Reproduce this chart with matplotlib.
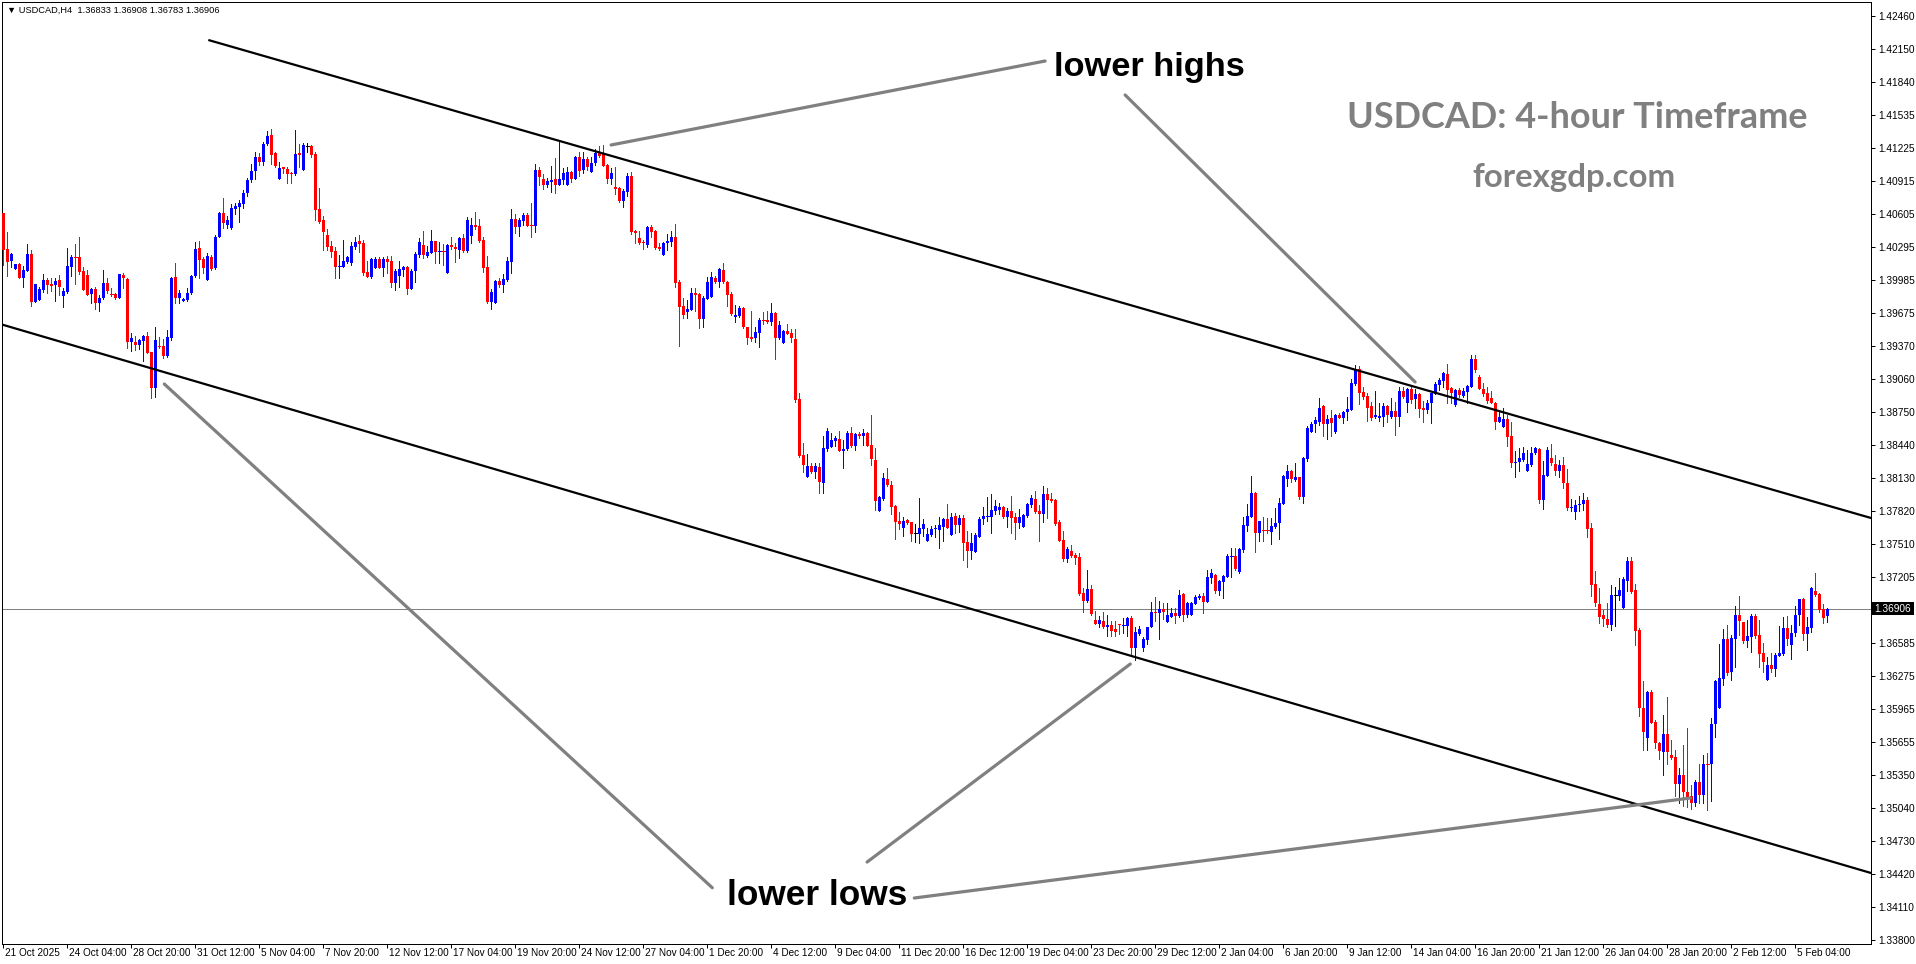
import matplotlib
matplotlib.use("Agg")
import matplotlib.pyplot as plt
from matplotlib.patches import Rectangle
from matplotlib.collections import PatchCollection, LineCollection
from matplotlib.transforms import blended_transform_factory

# ---------------- data (USDCAD H4, one value per bar) ----------------
opens = [
1.40611,1.40273,1.40167,1.40086,1.40136,1.40008,1.40073,1.40226,1.39783,1.39798,
1.39892,1.39986,1.39951,1.39942,1.39986,1.39839,1.39873,1.40111,1.40204,1.40204,
1.40070,1.40033,1.39851,1.39901,1.39767,1.39814,1.39955,1.39861,1.39855,1.39814,
1.40033,1.39995,1.39408,1.39402,1.39377,1.39417,1.39461,1.39311,1.38970,1.39367,
1.39367,1.39274,1.39439,1.40017,1.39814,1.39792,1.39798,1.39861,1.40026,1.40289,
1.40183,1.39986,1.40204,1.40101,1.40392,1.40611,1.40501,1.40470,1.40651,1.40667,
1.40698,1.40798,1.40923,1.41010,1.41135,1.41095,1.41257,1.41345,1.41173,1.40932,
1.41042,1.41023,1.40992,1.40976,1.41179,1.41017,1.41242,1.41242,1.41166,1.40648,
1.40548,1.40407,1.40304,1.40257,1.40110,1.40110,1.40157,1.40148,1.40298,1.40351,
1.40332,1.40060,1.40017,1.40098,1.40179,1.40098,1.40179,1.40160,1.39961,1.40023,
1.40079,1.40107,1.39901,1.40070,1.40220,1.40313,1.40210,1.40242,1.40351,1.40251,
1.40257,1.40054,1.40313,1.40298,1.40267,1.40379,1.40260,1.40401,1.40501,1.40492,
1.40360,1.40107,1.39779,1.39773,1.39976,1.39939,1.39985,1.40157,1.40557,1.40479,
1.40542,1.40595,1.40501,1.40495,1.41016,1.40929,1.40879,1.40907,1.40929,1.40879,
1.40923,1.40879,1.40998,1.40932,1.41141,1.41016,1.41119,1.41001,1.41079,1.41179,
1.41163,1.41063,1.40932,1.40857,1.40848,1.40726,1.40813,1.40961,1.40448,1.40377,
1.40345,1.40314,1.40483,1.40445,1.40295,1.40224,1.40336,1.40345,1.40389,1.39967,
1.39742,1.39689,1.39708,1.39861,1.39855,1.39624,1.39811,1.39830,1.40005,1.39970,
1.40080,1.39967,1.39855,1.39642,1.39649,1.39727,1.39549,1.39455,1.39439,1.39486,
1.39611,1.39611,1.39596,1.39680,1.39439,1.39399,1.39508,1.39492,1.39433,1.38871,
1.38346,1.38143,1.38243,1.38190,1.38237,1.38087,1.38405,1.38424,1.38480,1.38496,
1.38387,1.38399,1.38555,1.38430,1.38543,1.38527,1.38555,1.38440,1.38299,1.37824,
1.37930,1.38118,1.38065,1.37868,1.37727,1.37665,1.37737,1.37715,1.37613,1.37602,
1.37652,1.37540,1.37596,1.37649,1.37643,1.37668,1.37749,1.37596,1.37774,1.37690,
1.37752,1.37531,1.37446,1.37440,1.37581,1.37743,1.37768,1.37765,1.37824,1.37831,
1.37856,1.37762,1.37824,1.37765,1.37712,1.37674,1.37774,1.37877,1.37934,1.37824,
1.37790,1.37980,1.37930,1.37924,1.37718,1.37549,1.37371,1.37446,1.37409,1.37393,
1.37056,1.36981,1.37090,1.36800,1.36765,1.36790,1.36737,1.36750,1.36715,1.36759,
1.36746,1.36746,1.36815,1.36534,1.36668,1.36534,1.36612,1.36731,1.36875,1.36862,
1.36900,1.36784,1.36831,1.36868,1.36837,1.37040,1.36846,1.36846,1.36950,1.37003,
1.37025,1.36971,1.37196,1.37221,1.37071,1.37159,1.37206,1.37393,1.37399,1.37253,
1.37456,1.37684,1.37768,1.37993,1.37612,1.37643,1.37643,1.37628,1.37675,1.37706,
1.37887,1.38118,1.38196,1.38112,1.38143,1.37956,1.38306,1.38565,1.38634,1.38659,
1.38809,1.38634,1.38690,1.38565,1.38721,1.38690,1.38746,1.38768,1.39009,1.39149,
1.38940,1.38899,1.38805,1.38699,1.38696,1.38699,1.38805,1.38705,1.38759,1.38705,
1.38949,1.38837,1.38962,1.38868,1.38915,1.38787,1.38768,1.38830,1.38918,1.39002,
1.39043,1.39105,1.38977,1.38815,1.38955,1.38899,1.38940,1.38987,1.39246,1.39080,
1.38965,1.38930,1.38877,1.38837,1.38659,1.38612,1.38680,1.38524,1.38268,1.38277,
1.38299,1.38199,1.38252,1.38362,1.38399,1.37924,1.38149,1.38321,1.38262,1.38196,
1.38252,1.38081,1.37853,1.37815,1.37874,1.37884,1.37924,1.37659,1.37137,1.36950,
1.36847,1.36806,1.36753,1.37034,1.37025,1.36915,1.37168,1.37353,1.37081,1.36706,
1.35978,1.35691,1.36128,1.35847,1.35644,1.35566,1.35731,1.35535,1.35519,1.35260,
1.35347,1.35191,1.35150,1.35080,1.35285,1.35160,1.35457,1.35450,1.35825,1.35972,
1.36247,1.36622,1.36316,1.36622,1.36847,1.36784,1.36603,1.36644,1.36837,1.36659,
1.36487,1.36238,1.36378,1.36341,1.36462,1.36478,1.36728,1.36566,1.36675,1.36847,
1.36997,1.36669,1.36728,1.37072,1.37044,1.36900,1.36833]

highs = [
1.40611,1.40439,1.40242,1.40136,1.40142,1.40117,1.40320,1.40267,1.39948,1.39923,
1.40042,1.40001,1.40001,1.40001,1.40033,1.39908,1.40289,1.40220,1.40323,1.40392,
1.40111,1.40079,1.39908,1.39923,1.39845,1.40079,1.40001,1.39908,1.39861,1.40042,
1.40048,1.40001,1.39486,1.39461,1.39433,1.39470,1.39502,1.39311,1.39548,1.39455,
1.39430,1.39517,1.40017,1.40142,1.39892,1.39814,1.39908,1.40033,1.40345,1.40351,
1.40204,1.40236,1.40220,1.40407,1.40626,1.40751,1.40586,1.40695,1.40704,1.40736,
1.40829,1.40939,1.41070,1.41189,1.41173,1.41282,1.41385,1.41401,1.41189,1.41095,
1.41048,1.41048,1.41001,1.41392,1.41260,1.41267,1.41267,1.41251,1.41188,1.40845,
1.40585,1.40460,1.40351,1.40298,1.40220,1.40360,1.40210,1.40345,1.40385,1.40407,
1.40360,1.40164,1.40195,1.40204,1.40198,1.40198,1.40210,1.40210,1.40089,1.40164,
1.40120,1.40117,1.40085,1.40251,1.40382,1.40445,1.40304,1.40454,1.40351,1.40345,
1.40320,1.40323,1.40385,1.40329,1.40392,1.40417,1.40573,1.40563,1.40626,1.40554,
1.40385,1.40210,1.39901,1.39985,1.40001,1.40042,1.40204,1.40651,1.40604,1.40563,
1.40610,1.40617,1.40704,1.41073,1.41048,1.40979,1.40938,1.41054,1.41132,1.41298,
1.41038,1.41048,1.41007,1.41148,1.41188,1.41188,1.41135,1.41141,1.41210,1.41241,
1.41251,1.41070,1.41038,1.41048,1.40860,1.40838,1.40991,1.41001,1.40455,1.40445,
1.40361,1.40492,1.40502,1.40455,1.40330,1.40342,1.40417,1.40445,1.40511,1.39986,
1.39814,1.39799,1.39908,1.39908,1.39867,1.39836,1.40017,1.40064,1.40024,1.40102,
1.40142,1.39974,1.39877,1.39752,1.39742,1.39736,1.39549,1.39696,1.39542,1.39627,
1.39689,1.39696,1.39774,1.39689,1.39605,1.39517,1.39574,1.39524,1.39527,1.38924,
1.38462,1.38355,1.38268,1.38268,1.38268,1.38524,1.38602,1.38549,1.38527,1.38571,
1.38487,1.38571,1.38605,1.38550,1.38565,1.38590,1.38565,1.38721,1.38415,1.37962,
1.38180,1.38221,1.38102,1.37877,1.37815,1.37768,1.37743,1.37721,1.37699,1.37940,
1.37743,1.37659,1.37681,1.37690,1.37762,1.37759,1.37887,1.37806,1.37806,1.37784,
1.37784,1.37634,1.37618,1.37618,1.37768,1.37856,1.37949,1.37980,1.37924,1.37893,
1.37868,1.37852,1.37962,1.37806,1.37837,1.37790,1.37893,1.37971,1.38009,1.37877,
1.38055,1.38034,1.37993,1.37930,1.37737,1.37634,1.37487,1.37502,1.37431,1.37431,
1.37096,1.37268,1.37128,1.36887,1.36837,1.36871,1.36846,1.36793,1.36787,1.36762,
1.36821,1.36831,1.36837,1.36737,1.36743,1.36643,1.36737,1.36971,1.37018,1.36978,
1.36962,1.36956,1.36909,1.36909,1.37081,1.37050,1.36971,1.36971,1.37034,1.37043,
1.37050,1.37268,1.37274,1.37231,1.37174,1.37221,1.37415,1.37471,1.37478,1.37478,
1.37768,1.37884,1.38149,1.38003,1.37728,1.37762,1.37753,1.37753,1.37846,1.37940,
1.38159,1.38252,1.38206,1.38268,1.38143,1.38331,1.38618,1.38659,1.38699,1.38884,
1.38815,1.38721,1.38768,1.38730,1.38737,1.38759,1.38893,1.39058,1.39190,1.39183,
1.38987,1.38924,1.38843,1.38946,1.38830,1.38837,1.38815,1.38877,1.38840,1.38987,
1.38987,1.38977,1.38987,1.38962,1.38930,1.38852,1.38862,1.38930,1.39027,1.39065,
1.39127,1.39199,1.38987,1.38962,1.38971,1.38971,1.39002,1.39283,1.39283,1.39096,
1.39024,1.38980,1.38949,1.38846,1.38752,1.38784,1.38721,1.38659,1.38384,1.38409,
1.38418,1.38393,1.38418,1.38424,1.38415,1.38290,1.38418,1.38449,1.38346,1.38299,
1.38331,1.38212,1.37931,1.37924,1.37962,1.37993,1.37956,1.37706,1.37262,1.37097,
1.36894,1.36956,1.37128,1.37112,1.37190,1.37206,1.37393,1.37393,1.37137,1.36722,
1.36228,1.36138,1.36144,1.35863,1.35660,1.35910,1.36075,1.35675,1.35581,1.35410,
1.35628,1.35785,1.35250,1.35300,1.35450,1.35535,1.35557,1.35878,1.36238,1.36575,
1.36715,1.36753,1.36659,1.36931,1.37025,1.36784,1.36800,1.36856,1.36856,1.36800,
1.36581,1.36456,1.36494,1.36494,1.36744,1.36831,1.36837,1.36753,1.36931,1.36997,
1.37003,1.36831,1.37106,1.37243,1.37050,1.36947,1.36908]

lows = [
1.40126,1.40026,1.40111,1.40086,1.40001,1.39923,1.40067,1.39742,1.39783,1.39798,
1.39876,1.39861,1.39886,1.39792,1.39845,1.39730,1.39867,1.40026,1.39945,1.40042,
1.39892,1.39845,1.39773,1.39717,1.39698,1.39805,1.39861,1.39836,1.39810,1.39814,
1.39914,1.39345,1.39323,1.39330,1.39336,1.39230,1.39298,1.38877,1.38892,1.39345,
1.39252,1.39267,1.39423,1.39767,1.39773,1.39792,1.39792,1.39855,1.40017,1.40001,
1.40048,1.39986,1.40079,1.40086,1.40386,1.40470,1.40470,1.40461,1.40604,1.40532,
1.40664,1.40773,1.40907,1.40929,1.41064,1.41064,1.41251,1.41073,1.41048,1.40932,
1.40992,1.40898,1.40898,1.40970,1.41042,1.41017,1.41189,1.41135,1.40548,1.40517,
1.40267,1.40267,1.40198,1.40007,1.40007,1.40110,1.40148,1.40126,1.40276,1.40251,
1.40032,1.40017,1.40007,1.40095,1.40095,1.40026,1.40054,1.39923,1.39895,1.39923,
1.40023,1.39851,1.39898,1.39970,1.40198,1.40189,1.40204,1.40235,1.40142,1.40142,
1.40126,1.40054,1.40273,1.40157,1.40189,1.40251,1.40251,1.40329,1.40463,1.40345,
1.40064,1.39773,1.39711,1.39773,1.39923,1.39876,1.39976,1.40054,1.40429,1.40401,
1.40501,1.40492,1.40392,1.40432,1.40876,1.40835,1.40860,1.40813,1.40804,1.40873,
1.40885,1.40879,1.40907,1.40932,1.40960,1.40985,1.41016,1.41001,1.41063,1.41141,
1.41054,1.40898,1.40885,1.40791,1.40720,1.40673,1.40773,1.40417,1.40336,1.40323,
1.40277,1.40292,1.40392,1.40277,1.40267,1.40220,1.40267,1.40305,1.39917,1.39371,
1.39627,1.39633,1.39705,1.39699,1.39539,1.39549,1.39805,1.39830,1.39955,1.39917,
1.39961,1.39742,1.39658,1.39596,1.39639,1.39539,1.39383,1.39414,1.39405,1.39361,
1.39574,1.39580,1.39564,1.39249,1.39430,1.39399,1.39480,1.39402,1.38846,1.38330,
1.38190,1.38143,1.38174,1.38127,1.37993,1.37993,1.38387,1.38418,1.38430,1.38384,
1.38227,1.38393,1.38424,1.38393,1.38502,1.38440,1.38430,1.38252,1.37831,1.37824,
1.37924,1.38055,1.37793,1.37559,1.37652,1.37590,1.37699,1.37540,1.37534,1.37524,
1.37590,1.37540,1.37587,1.37574,1.37471,1.37543,1.37659,1.37596,1.37612,1.37627,
1.37362,1.37299,1.37368,1.37440,1.37581,1.37699,1.37731,1.37618,1.37790,1.37790,
1.37756,1.37674,1.37618,1.37556,1.37659,1.37674,1.37762,1.37856,1.37806,1.37543,
1.37721,1.37759,1.37909,1.37690,1.37540,1.37356,1.37346,1.37393,1.37324,1.37034,
1.36878,1.36971,1.36846,1.36762,1.36737,1.36722,1.36650,1.36650,1.36650,1.36665,
1.36681,1.36650,1.36478,1.36425,1.36659,1.36512,1.36575,1.36731,1.36793,1.36622,
1.36806,1.36778,1.36825,1.36775,1.36825,1.36793,1.36831,1.36846,1.36946,1.36996,
1.36868,1.36971,1.37143,1.37056,1.37034,1.37003,1.37199,1.37199,1.37268,1.37243,
1.37440,1.37637,1.37762,1.37440,1.37540,1.37540,1.37612,1.37509,1.37659,1.37559,
1.37887,1.38059,1.38096,1.38103,1.37931,1.37893,1.38293,1.38559,1.38565,1.38627,
1.38527,1.38496,1.38527,1.38556,1.38696,1.38643,1.38674,1.38768,1.39002,1.38824,
1.38868,1.38668,1.38674,1.38690,1.38668,1.38618,1.38659,1.38690,1.38534,1.38618,
1.38877,1.38752,1.38837,1.38784,1.38699,1.38659,1.38737,1.38649,1.38915,1.38955,
1.38987,1.38830,1.38830,1.38805,1.38893,1.38893,1.38837,1.38987,1.39127,1.38965,
1.38902,1.38837,1.38830,1.38587,1.38652,1.38606,1.38434,1.38237,1.38137,1.38199,
1.38293,1.38199,1.38246,1.38352,1.37899,1.37840,1.38149,1.38252,1.38159,1.38143,
1.38034,1.37831,1.37825,1.37746,1.37825,1.37831,1.37581,1.37025,1.36931,1.36775,
1.36744,1.36737,1.36706,1.36744,1.36987,1.36915,1.37075,1.37050,1.36566,1.35900,
1.35581,1.35581,1.35831,1.35597,1.35494,1.35347,1.35450,1.35494,1.35150,1.35082,
1.35057,1.35050,1.35030,1.35060,1.35082,1.35082,1.35019,1.35104,1.35706,1.35972,
1.36191,1.36284,1.36238,1.36362,1.36659,1.36587,1.36544,1.36503,1.36628,1.36362,
1.36316,1.36238,1.36309,1.36275,1.36462,1.36472,1.36566,1.36434,1.36650,1.36753,
1.36612,1.36519,1.36684,1.37025,1.36878,1.36775,1.36783]

closes = [
1.40267,1.40158,1.40229,1.40136,1.40008,1.40079,1.40229,1.39783,1.39948,1.39901,
1.39986,1.39939,1.39933,1.39973,1.39917,1.39883,1.40117,1.40204,1.40198,1.40058,
1.39892,1.39845,1.39901,1.39773,1.39820,1.39955,1.39886,1.39855,1.39814,1.40042,
1.40001,1.39408,1.39442,1.39377,1.39423,1.39461,1.39305,1.38970,1.39423,1.39355,
1.39274,1.39455,1.40005,1.39814,1.39861,1.39808,1.39867,1.40026,1.40276,1.40173,
1.40101,1.40211,1.40086,1.40392,1.40617,1.40517,1.40548,1.40657,1.40682,1.40704,
1.40798,1.40923,1.41010,1.41142,1.41095,1.41260,1.41338,1.41157,1.41054,1.41039,
1.41023,1.40979,1.40976,1.41167,1.41157,1.41254,1.41242,1.41157,1.40642,1.40532,
1.40438,1.40298,1.40251,1.40110,1.40117,1.40164,1.40201,1.40304,1.40342,1.40323,
1.40054,1.40017,1.40179,1.40179,1.40098,1.40179,1.40157,1.39961,1.40070,1.40089,
1.40107,1.39901,1.40070,1.40229,1.40342,1.40220,1.40248,1.40351,1.40251,1.40257,
1.40251,1.40313,1.40292,1.40279,1.40379,1.40260,1.40548,1.40501,1.40485,1.40354,
1.40101,1.39779,1.39873,1.39976,1.39939,1.39992,1.40160,1.40557,1.40479,1.40548,
1.40595,1.40495,1.40495,1.41016,1.40954,1.40879,1.40916,1.40923,1.40879,1.40932,
1.40991,1.40998,1.40932,1.41141,1.41010,1.41119,1.41048,1.41079,1.41179,1.41148,
1.41057,1.40932,1.40991,1.40841,1.40726,1.40820,1.40960,1.40433,1.40423,1.40336,
1.40330,1.40483,1.40436,1.40289,1.40277,1.40336,1.40352,1.40389,1.39961,1.39736,
1.39661,1.39714,1.39861,1.39842,1.39624,1.39817,1.39967,1.40011,1.39970,1.40086,
1.39967,1.39845,1.39667,1.39658,1.39727,1.39549,1.39446,1.39436,1.39496,1.39611,
1.39605,1.39596,1.39674,1.39446,1.39564,1.39508,1.39483,1.39439,1.38861,1.38337,
1.38252,1.38243,1.38190,1.38243,1.38096,1.38415,1.38571,1.38487,1.38502,1.38387,
1.38402,1.38555,1.38430,1.38540,1.38524,1.38555,1.38433,1.38305,1.37915,1.37955,
1.38134,1.38065,1.37862,1.37721,1.37696,1.37727,1.37712,1.37602,1.37613,1.37659,
1.37699,1.37606,1.37652,1.37659,1.37690,1.37749,1.37665,1.37768,1.37690,1.37759,
1.37524,1.37446,1.37518,1.37596,1.37743,1.37774,1.37774,1.37831,1.37868,1.37856,
1.37762,1.37824,1.37759,1.37712,1.37768,1.37784,1.37884,1.37940,1.37815,1.37790,
1.37980,1.37924,1.37918,1.37699,1.37543,1.37371,1.37465,1.37399,1.37384,1.37040,
1.36981,1.37090,1.36856,1.36765,1.36800,1.36737,1.36753,1.36700,1.36687,1.36750,
1.36753,1.36815,1.36534,1.36684,1.36715,1.36622,1.36737,1.36875,1.36862,1.36900,
1.36875,1.36846,1.36868,1.36837,1.37034,1.36846,1.36962,1.36962,1.37012,1.37025,
1.36971,1.37206,1.37237,1.37071,1.37165,1.37215,1.37399,1.37399,1.37278,1.37465,
1.37690,1.37775,1.37993,1.37612,1.37728,1.37637,1.37637,1.37681,1.37712,1.37893,
1.38149,1.38196,1.38118,1.38143,1.37956,1.38315,1.38602,1.38634,1.38674,1.38784,
1.38634,1.38684,1.38649,1.38721,1.38696,1.38746,1.38777,1.39018,1.39152,1.38930,
1.38887,1.38790,1.38696,1.38721,1.38712,1.38805,1.38721,1.38759,1.38705,1.38949,
1.38887,1.38962,1.38862,1.38915,1.38780,1.38768,1.38837,1.38924,1.39009,1.39049,
1.39118,1.38955,1.38930,1.38955,1.38909,1.38949,1.38993,1.39246,1.39143,1.38965,
1.38918,1.38852,1.38837,1.38659,1.38699,1.38684,1.38518,1.38274,1.38284,1.38315,
1.38368,1.38259,1.38368,1.38409,1.37924,1.38159,1.38393,1.38268,1.38196,1.38252,
1.38081,1.37853,1.37862,1.37878,1.37887,1.37924,1.37650,1.37128,1.36956,1.36831,
1.36806,1.36753,1.37034,1.37034,1.37081,1.37184,1.37353,1.37065,1.36700,1.35972,
1.35753,1.36128,1.35838,1.35644,1.35575,1.35731,1.35563,1.35510,1.35260,1.35347,
1.35191,1.35144,1.35080,1.35285,1.35160,1.35450,1.35450,1.35825,1.36228,1.36253,
1.36622,1.36306,1.36628,1.36847,1.36794,1.36603,1.36650,1.36837,1.36650,1.36481,
1.36409,1.36378,1.36341,1.36472,1.36487,1.36728,1.36622,1.36681,1.36847,1.36997,
1.36669,1.36737,1.37097,1.37034,1.36894,1.36822,1.36906]

x_labels = ["21 Oct 2025", "24 Oct 04:00", "28 Oct 20:00", "31 Oct 12:00", "5 Nov 04:00",
            "7 Nov 20:00", "12 Nov 12:00", "17 Nov 04:00", "19 Nov 20:00", "24 Nov 12:00",
            "27 Nov 04:00", "1 Dec 20:00", "4 Dec 12:00", "9 Dec 04:00", "11 Dec 20:00",
            "16 Dec 12:00", "19 Dec 04:00", "23 Dec 20:00", "29 Dec 12:00", "2 Jan 04:00",
            "6 Jan 20:00", "9 Jan 12:00", "14 Jan 04:00", "16 Jan 20:00", "21 Jan 12:00",
            "26 Jan 04:00", "28 Jan 20:00", "2 Feb 12:00", "5 Feb 04:00"]
bars_per_label = 16

y_ticks = [1.42460, 1.42150, 1.41840, 1.41535, 1.41225, 1.40915, 1.40605, 1.40295,
           1.39985, 1.39675, 1.39370, 1.39060, 1.38750, 1.38440, 1.38130, 1.37820,
           1.37510, 1.37205, 1.36585, 1.36275, 1.35965, 1.35655, 1.35350, 1.35040,
           1.34730, 1.34420, 1.34110, 1.33800]

current_price = 1.36906
header = "\u25bc USDCAD,H4  1.36833 1.36908 1.36783 1.36906"

# trend channel (bar index, price)
upper_channel = [(51.2, 1.42235), (466.9, 1.37755)]
lower_channel = [(-0.8, 1.39573), (466.9, 1.34428)]

# annotation pointer lines (bar index, price)
highs_pointers = [[(260.4, 1.42038), (151.9, 1.41251)],
                  [(280.4, 1.41720), (352.9, 1.39030)]]
lows_pointers = [[(40.2, 1.39011), (177.2, 1.34290)],
                 [(215.9, 1.34531), (281.7, 1.36387)],
                 [(227.7, 1.34194), (421.7, 1.35131)]]

# ---------------- figure geometry ----------------
W, H, DPI = 1916, 964, 100
X0, X1, Y0, Y1 = 2, 1871, 2, 944          # plot frame in pixels (top-left origin)
Y_TOP, Y_BOT = 1.42591, 1.33763            # price range of the frame
PX_PER_BAR = 4

fig = plt.figure(figsize=(W / DPI, H / DPI), dpi=DPI)
fig.patch.set_facecolor("white")
ax = fig.add_axes([X0 / W, 1 - Y1 / H, (X1 - X0) / W, (Y1 - Y0) / H])
xmin = -0.375
ax.set_xlim(xmin, xmin + (X1 - X0) / PX_PER_BAR)
ax.set_ylim(Y_BOT, Y_TOP)
ax.set_facecolor("white")
ppx = (Y_TOP - Y_BOT) / (Y1 - Y0)

BULL, BEAR, DOJI = "#0000FF", "#FF0000", "#000000"
wseg, wcol, rects, rcol, dseg, dcol = [], [], [], [], [], []
for i, (o, h, l, c) in enumerate(zip(opens, highs, lows, closes)):
    col = BULL if c > o else (BEAR if c < o else DOJI)
    hi, lo = max(h, o, c), min(l, o, c)
    wseg.append([(i, lo), (i, hi)])
    wcol.append(col)
    b, t = min(o, c), max(o, c)
    if t - b < ppx * 0.9:
        dseg.append([(i - 0.375, (o + c) / 2), (i + 0.375, (o + c) / 2)])
        dcol.append(col)
    else:
        rects.append(Rectangle((i - 0.375, b), 0.75, t - b))
        rcol.append(col)

ax.add_collection(LineCollection(wseg, colors=wcol, linewidths=72 / DPI,
                                 antialiaseds=False, zorder=3))
ax.add_collection(PatchCollection(rects, facecolors=rcol, edgecolors="none",
                                  antialiaseds=False, zorder=4))
ax.add_collection(LineCollection(dseg, colors=dcol, linewidths=72 / DPI,
                                 antialiaseds=False, zorder=4))

# current price line
ax.axhline(current_price, color="#808080", lw=72 / DPI, zorder=2)

# channel lines
for ln in (upper_channel, lower_channel):
    ax.plot([p[0] for p in ln], [p[1] for p in ln], color="black", lw=1.6,
            solid_capstyle="butt", zorder=5)

# pointer lines
for ln in highs_pointers + lows_pointers:
    ax.plot([p[0] for p in ln], [p[1] for p in ln], color="#808080", lw=2.3,
            solid_capstyle="round", zorder=6)

# ---------------- axes styling ----------------
for s in ax.spines.values():
    s.set_color("black")
    s.set_linewidth(72 / DPI)

ax.yaxis.tick_right()
ax.set_yticks(y_ticks)
ax.set_yticklabels([f"{v:.5f}" for v in y_ticks])
ax.tick_params(axis="y", direction="out", length=3, width=72 / DPI, pad=2,
               labelsize=7.3, colors="black")
for t in ax.get_yticklabels():
    t.set_family("Liberation Sans")

xt = [k * bars_per_label for k in range(len(x_labels))]
ax.set_xticks(xt)
ax.set_xticklabels([])
ax.tick_params(axis="x", direction="out", length=3, width=72 / DPI)
trans = blended_transform_factory(ax.transData, fig.transFigure)
for k, lab in enumerate(x_labels):
    ax.text(xt[k] + 0.4, 1 - 948 / H, lab, transform=trans, ha="left", va="top",
            fontsize=7.2, family="Liberation Sans", color="black", clip_on=False)

# current price box on the axis
yp = Y0 + (Y_TOP - current_price) / ppx
fig.patches.append(Rectangle((1872 / W, 1 - (yp + 6.5) / H), 42 / W, 13 / H,
                             transform=fig.transFigure, facecolor="black",
                             edgecolor="none"))
fig.text(1874 / W, 1 - yp / H, f"{current_price:.5f}", color="white", ha="left",
         va="center", fontsize=7.3, family="Liberation Sans")

# ---------------- texts ----------------
renderer = fig.canvas.get_renderer()


def fit(t, width_px):
    bb = t.get_window_extent(renderer=renderer)
    t.set_fontsize(t.get_fontsize() * width_px / bb.width)


def ftext(x, y, s, width, **kw):
    t = fig.text(x / W, 1 - y / H, s, **kw)
    fit(t, width)
    return t


ftext(7, 10, header, 213, ha="left", va="center", fontsize=8,
      family=["Liberation Sans", "DejaVu Sans"], color="black")
ftext(1054, 76, "lower highs", 192, ha="left", va="baseline", fontsize=24,
      family="Liberation Sans", fontweight="bold", color="black")
ftext(727, 905, "lower lows", 181, ha="left", va="baseline", fontsize=24,
      family="Liberation Sans", fontweight="bold", color="black")
ftext(1347, 128, "USDCAD: 4-hour Timeframe", 459, ha="left", va="baseline",
      fontsize=24, family="Lato", fontweight="bold", color="#808080")
ftext(1472, 187, "forexgdp.com", 203, ha="left", va="baseline", fontsize=20,
      family="Lato", fontweight="bold", color="#808080")

fig.savefig("out.png", dpi=DPI, facecolor="white")
